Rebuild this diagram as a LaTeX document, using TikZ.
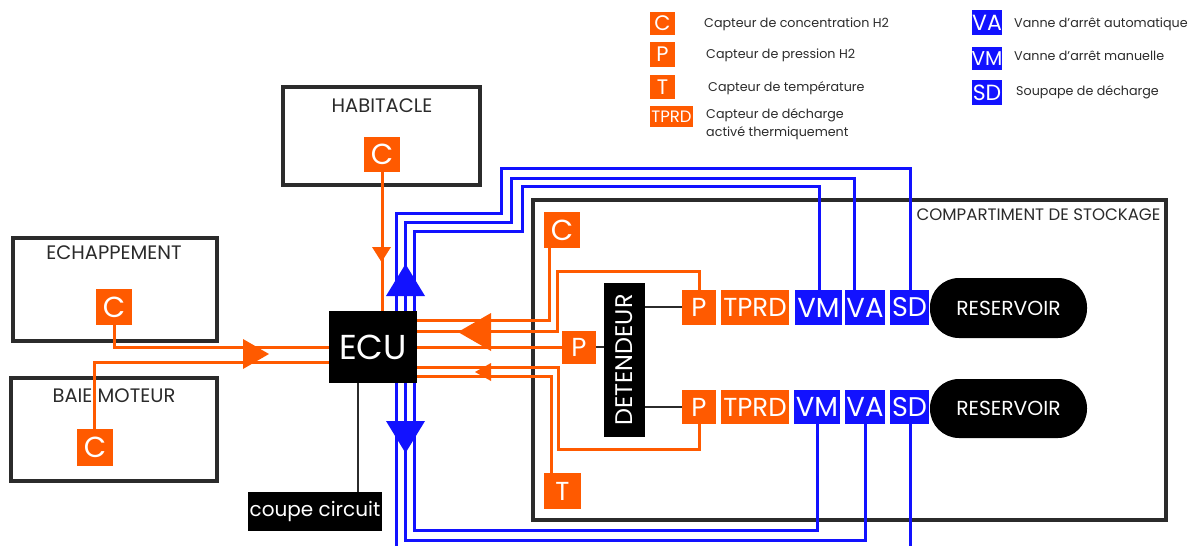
\documentclass[tikz,border=0pt]{standalone}
\usepackage{fontspec}
\setmainfont{Poppins}
\definecolor{or}{HTML}{FF5A00}
\definecolor{bl}{HTML}{1212FF}
\definecolor{fr}{HTML}{2B2B2B}
\tikzset{
  zone/.style={draw=fr,line width=3.8pt,fill=white},
  ol/.style={draw=or,line width=3pt,line join=miter},
  bll/.style={draw=bl,line width=3pt,line join=miter},
  kl/.style={draw=fr,line width=2.6pt},
  lab/.style={text=fr,inner sep=0pt,font=\fontsize{19.5}{22}\selectfont},
  leg/.style={text=fr,inner sep=0pt,anchor=west,align=left,font=\fontsize{12.7}{18}\selectfont},
  tile/.style={inner sep=0pt,text=white,font=\fontsize{#1}{#1}\selectfont},
  blk/.style={fill=black,text=white,inner sep=0pt},
}
\newcommand{\tl}[7][tile=26]{% [extra] name x1 y1 x2 y2 then fill and text
  \def\tlname{#2}\def\tlopt{#1}%
  \pgfmathsetmacro\tlw{#5-#3}\pgfmathsetmacro\tlh{#6-#4}%
  \pgfmathsetmacro\tlx{(#3+#5)/2}\pgfmathsetmacro\tly{(#4+#6)/2}%
  \tlfinish{#7}}
\newcommand{\tlfinish}[2]{%
  \edef\tlrun{\noexpand\node[\tlopt,fill=#1,minimum width=\tlw pt,minimum height=\tlh pt] (\tlname) at (\tlx,\tly)}%
  \tlrun {#2};}
\begin{document}
\begin{tikzpicture}[x=1pt,y=-1pt]
\useasboundingbox (0,0) rectangle (1189,546);
% zones
\draw[zone] (283,87) rectangle (480,185);
\draw[zone] (13,238) rectangle (217,341);
\draw[zone] (11,378) rectangle (217,481);
\draw[zone] (533,200) rectangle (1166,520);
\node[lab] (th) at (382,106) {HABITACLE};
\node[lab] (te) at (114,253) {ECHAPPEMENT};
\node[lab] (tb) at (114,396) {BAIE MOTEUR};
\node[lab,font=\fontsize{16.6}{20}\selectfont] (ts) at (1038.5,215) {COMPARTIMENT DE STOCKAGE};
% nodes
\tl[tile=29]{ch}{364}{137}{400}{172}{or}{C}
\tl[tile=29]{ce}{96}{289}{132}{325}{or}{C}
\tl[tile=29]{cb}{77}{429}{113}{466}{or}{C}
\tl[tile=29]{cs}{544}{212}{580}{248}{or}{C}
\tl{pm}{562}{331}{596}{364}{or}{P}
\tl{ts2}{544}{473}{581}{509}{or}{T}
\tl{pa}{682}{290}{716}{325}{or}{P}
\tl{pb}{682}{390}{716}{424}{or}{P}
\tl{ta}{721}{290}{789}{325}{or}{TPRD}
\tl{tb2}{721}{390}{789}{424}{or}{TPRD}
\tl[tile=27.5]{vma}{795}{290}{842}{325}{bl}{VM}
\tl[tile=27.5]{vaa}{845}{290}{885}{325}{bl}{VA}
\tl[tile=27]{sda}{890}{290}{929}{325}{bl}{SD}
\tl[tile=27.5]{vmb}{794}{390}{840}{424}{bl}{VM}
\tl[tile=27.5]{vab}{845}{390}{885}{424}{bl}{VA}
\tl[tile=27]{sdb}{890}{390}{929}{424}{bl}{SD}
\node[blk,minimum width=88pt,minimum height=72pt,font=\fontsize{34.6}{34.6}\selectfont] (ecu) at (373,347) {ECU};
\node[blk,minimum width=134pt,minimum height=39pt,font=\fontsize{20}{20}\selectfont] (cc) at (315,511.5) {coupe circuit};
\node[blk,minimum width=154pt,minimum height=41pt,rotate=90,font=\fontsize{24}{24}\selectfont] (det) at (624.5,360) {DETENDEUR};
\node[blk,minimum width=157pt,minimum height=60pt,rounded corners=29pt,font=\fontsize{20.3}{20.3}\selectfont] (ra) at (1008.5,308) {RESERVOIR};
\node[blk,minimum width=157pt,minimum height=59pt,rounded corners=29pt,font=\fontsize{20.3}{20.3}\selectfont] (rb) at (1008.5,408.5) {RESERVOIR};
% black connectors
\draw[kl] (ecu.south -| 358,0) -- (cc.north -| 358,0);
\draw[kl] (pm.east |- 0,347) -- (det.north |- 0,347);
\draw[kl] (det.south |- 0,307) -- (pa.west |- 0,307);
\draw[kl] (det.south |- 0,407) -- (pb.west |- 0,407);
% orange connectors
\draw[ol] (ch.south) -- (ecu.north -| ch.south);
\draw[ol] (ce.south) -- (114,347) -- (ecu.west |- 0,347);
\draw[ol] (cb.north -| 94,0) -- (94,362) -- (ecu.west |- 0,362);
\draw[ol] (cs.south -| 549,0) -- (549,320) -- (ecu.east |- 0,320);
\draw[ol] (pa.north) -- (699,271) -- (557,271) -- (557,331) -- (ecu.east |- 0,331);
\draw[ol] (pm.west |- 0,347) -- (ecu.east |- 0,347);
\draw[ol] (pb.south) -- (699,449) -- (558,449) -- (558,367) -- (ecu.east |- 0,367);
\draw[ol] (ts2.north -| 551,0) -- (551,376) -- (ecu.east |- 0,376);
% orange heads
\fill[or] (372,247) -- (391,247) -- (381.5,262) -- cycle;
\fill[or] (243,339) -- (269,354) -- (243,369) -- cycle;
\fill[or] (491,313) -- (458,332) -- (491,351) -- cycle;
\fill[or] (491,363) -- (475,372) -- (491,381) -- cycle;
% blue connectors
\draw[bll] (ecu.north -| 396,0) -- (396,213) -- (501,213) -- (501,168) -- (910,168) -- (sda.north -| 910,0);
\draw[bll] (ecu.north -| 405,0) -- (405,222) -- (511,222) -- (511,178) -- (854,178) -- (vaa.north -| 854,0);
\draw[bll] (ecu.north -| 414.5,0) -- (414.5,231) -- (522,231) -- (522,186) -- (819,186) -- (vma.north -| 819,0);
\draw[bll] (ecu.south -| 396,0) -- (396,546);
\draw[bll] (ecu.south -| 405,0) -- (405,540) -- (865,540) -- (vab.south -| 865,0);
\draw[bll] (ecu.south -| 414.5,0) -- (414.5,530) -- (817,530) -- (vmb.south -| 817,0);
\draw[bll] (sdb.south -| 910,0) -- (910,546);
\fill[bl] (386,296) -- (425,296) -- (405.5,264) -- cycle;
\fill[bl] (386,421) -- (425,421) -- (405.5,453) -- cycle;
% legend
\tl[tile=21]{lc}{650}{12}{675}{35}{or}{C}
\tl[tile=21]{lp}{650}{42}{675}{67}{or}{P}
\tl[tile=21]{lt}{650}{75}{675}{99}{or}{T}
\tl[tile=16.5]{ltp}{650}{106}{693}{127}{or}{TPRD}
\tl[tile=22]{lva}{972}{10}{1002}{35}{bl}{VA}
\tl[tile=20]{lvm}{972}{47}{1002}{70}{bl}{VM}
\tl[tile=22]{lsd}{972}{80}{1002}{105}{bl}{SD}
\node[leg] (l1) at (704,24.5) {Capteur de concentration H2};
\node[leg] (l2) at (706,55) {Capteur de pression H2};
\node[leg] (l3) at (708,88) {Capteur de température};
\node[leg] (l4) at (706,115) {Capteur de décharge};
\node[leg] (l5) at (706,133) {activé thermiquement};
\node[leg] (l6) at (1014,24.5) {Vanne d’arrêt automatique};
\node[leg] (l7) at (1014,55.5) {Vanne d’arrêt manuelle};
\node[leg] (l8) at (1016,92) {Soupape de décharge};
\end{tikzpicture}
\end{document}
